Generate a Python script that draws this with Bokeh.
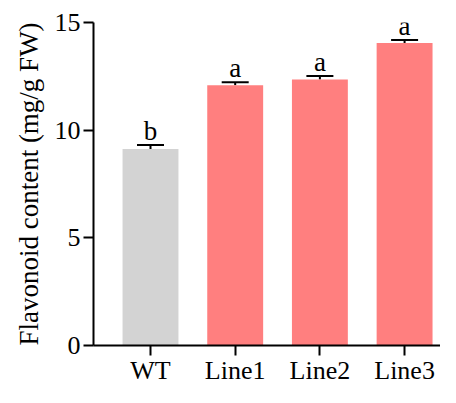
from bokeh.plotting import figure
from bokeh.models import ColumnDataSource, FixedTicker, Range1d, Whisker, TeeHead, LabelSet
from bokeh.embed import file_html
from bokeh.resources import INLINE

categories = ["WT", "Line1", "Line2", "Line3"]
means = [9.13, 12.09, 12.35, 14.05]
errors = [0.18, 0.13, 0.17, 0.14]
letters = ["b", "a", "a", "a"]
colors = ["#D3D3D3", "#FF7F7F", "#FF7F7F", "#FF7F7F"]
y_ticks = [0, 5, 10, 15]

xs = list(range(len(categories)))
upper = [m + e for m, e in zip(means, errors)]
src = ColumnDataSource(dict(x=xs, top=means, upper=upper, color=colors, letter=letters))

FONT = "Liberation Serif"

p = figure(width=440, height=387, output_backend="svg", toolbar_location=None,
           x_range=Range1d(-0.673, 3.424), y_range=Range1d(0, 15),
           min_border_left=93, min_border_top=22, min_border_bottom=20, min_border_right=0,
           border_fill_color="white", background_fill_color="white")
p.outline_line_color = None
p.grid.visible = False

p.vbar(x="x", top="top", bottom=0, width=0.66, fill_color="color", line_color=None, source=src)

w = Whisker(base="x", lower="top", upper="upper", source=src, dimension="height",
            line_color="black", line_width=2, lower_head=None,
            upper_head=TeeHead(size=27, line_color="black", line_width=2))
p.add_layout(w)

labels = LabelSet(x="x", y="upper", text="letter", source=src, text_align="center",
                  text_baseline="alphabetic", y_offset=5, text_font=FONT,
                  text_font_size="27px", text_color="black", level="overlay")
p.add_layout(labels)

for ax in (p.xaxis[0], p.yaxis[0]):
    ax.axis_line_width = 2
    ax.axis_line_color = "black"
    ax.major_tick_line_width = 2
    ax.major_tick_line_color = "black"
    ax.major_tick_out = 10
    ax.major_tick_in = 0
    ax.minor_tick_out = 0
    ax.minor_tick_in = 0
    ax.major_label_text_font = FONT
    ax.major_label_text_font_size = "26px"
    ax.major_label_text_color = "black"

p.xaxis.ticker = FixedTicker(ticks=xs)
p.xaxis.major_label_overrides = {i: c for i, c in enumerate(categories)}
p.xaxis.major_label_standoff = 0

p.yaxis.ticker = FixedTicker(ticks=y_ticks)
p.yaxis.major_label_standoff = 3
p.yaxis.axis_label = "Flavonoid content (mg/g FW)"
p.yaxis.axis_label_text_font = FONT
p.yaxis.axis_label_text_font_size = "27px"
p.yaxis.axis_label_text_font_style = "normal"
p.yaxis.axis_label_text_color = "black"
p.yaxis.axis_label_standoff = 8

open("out.html", "w").write(file_html(p, INLINE))
